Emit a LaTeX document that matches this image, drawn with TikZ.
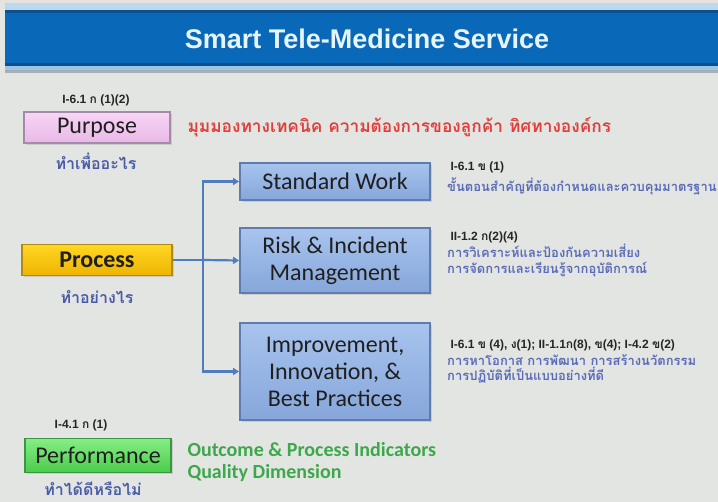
\documentclass[tikz,border=0pt]{standalone}
\usepackage{fontspec}
\setmainfont{Carlito}
\newfontfamily\arialf{Liberation Sans}
\newfontfamily\thaif[Script=Thai]{Loma}
\usetikzlibrary{arrows.meta,shadows}
\definecolor{bg}{HTML}{E3E5E3}
\definecolor{stripA}{HTML}{E6E2DC}
\definecolor{stripB}{HTML}{BCD8EE}
\definecolor{barblue}{HTML}{0A68B8}
\definecolor{bardark}{HTML}{0A4F8E}
\definecolor{barlow}{HTML}{9EC4E4}
\definecolor{bargrey}{HTML}{A6AEB8}
\definecolor{titletxt}{HTML}{E6F4FC}
\definecolor{thaiblue}{HTML}{4A5CA8}
\definecolor{thaiblue2}{HTML}{5A6CB8}
\definecolor{redtxt}{HTML}{E0403C}
\definecolor{greentxt}{HTML}{3DA84A}
\definecolor{arrowblue}{HTML}{4F7DC0}
\definecolor{pinkT}{HTML}{F8D6F6}
\definecolor{pinkB}{HTML}{E8B8E6}
\definecolor{pinkD}{HTML}{A48CA8}
\definecolor{goldT}{HTML}{FFD624}
\definecolor{goldB}{HTML}{EEB400}
\definecolor{goldD}{HTML}{B08A14}
\definecolor{greenT}{HTML}{86EE86}
\definecolor{greenB}{HTML}{4ACC4A}
\definecolor{greenD}{HTML}{3A9640}
\definecolor{blueT}{HTML}{A8C4EE}
\definecolor{blueB}{HTML}{86A6DA}
\definecolor{blueD}{HTML}{5E7CAE}
\newcommand\tk[1]{{\thaif\bfseries #1}}
\tikzset{
  basebox/.style={minimum height=31pt, inner sep=0pt, line width=1.8pt,
    drop shadow={opacity=0.25, shadow xshift=2pt, shadow yshift=-2pt},
    font=\fontsize{24}{27}\selectfont, text=black!88},
  pinkbox/.style={basebox, top color=pinkT, bottom color=pinkB, draw=pinkD},
  goldbox/.style={basebox, top color=goldT, bottom color=goldB, draw=goldD},
  greenbox/.style={basebox, top color=greenT, bottom color=greenB, draw=greenD},
  bluebox/.style={basebox, align=center, top color=blueT, bottom color=blueB, draw=blueD},
  reflbl/.style={font=\arialf\bfseries\fontsize{12}{14}\selectfont, text=black!85},
  subthai/.style={font=\thaif\bfseries\fontsize{16}{18}\selectfont, text=thaiblue},
  sidethai/.style={font=\thaif\bfseries\fontsize{13}{15.5}\selectfont, text=thaiblue2, align=left, anchor=north west, inner sep=0pt},
  link/.style={draw=arrowblue, line width=2.2pt},
  linkarrow/.style={link, -{Triangle[length=6pt,width=7pt]}}
}
\begin{document}
\begin{tikzpicture}[x=1pt,y=-1pt]
\useasboundingbox (0,0) rectangle (718,502);
\fill[bg] (0,0) rectangle (718,502);
\fill[stripA] (0,0) rectangle (718,3);
\fill[stripB] (5,3) rectangle (718,10);
\fill[bardark] (5,10) rectangle (718,13);
\fill[barblue] (5,13) rectangle (718,63);
\fill[bardark] (5,63) rectangle (718,66);
\fill[barlow] (5,66) rectangle (718,70);
\fill[bargrey] (5,70) rectangle (718,73);
\node[font=\arialf\bfseries\fontsize{27}{30}\selectfont, text=titletxt] (title) at (367,39) {Smart Tele-Medicine Service};

% left column
\node[reflbl] (lblpur) at (96,100) {I-6.1 \tk{ก} (1)(2)};
\node[pinkbox, minimum width=146pt] (purpose) at (97,127.5) {Purpose};
\node[subthai] (thpur) at (96,161) {ทำเพื่ออะไร};
\node[anchor=west, font=\thaif\bfseries\fontsize{17.3}{20}\selectfont, text=redtxt] (redline) at (184,127) {มุมมองทางเทคนิค ความต้องการของลูกค้า ทิศทางองค์กร};

\node[goldbox, minimum width=150pt, font=\bfseries\fontsize{24}{27}\selectfont] (process) at (97,260) {Process};
\node[subthai] (thproc) at (97,297) {ทำอย่างไร};

\node[reflbl] (lblperf) at (81,425) {I-4.1 \tk{ก} (1)};
\node[greenbox, minimum width=146pt, minimum height=34pt] (perf) at (98,455.5) {Performance};
\node[subthai] (thperf) at (93,489) {ทำได้ดีหรือไม่};
\node[anchor=west, font=\bfseries\fontsize{20}{22}\selectfont, text=greentxt, align=left] (green1) at (184,450) {Outcome \& Process Indicators};
\node[anchor=west, font=\bfseries\fontsize{20}{22}\selectfont, text=greentxt, align=left] (green2) at (184,473) {Quality Dimension};

% process boxes
\node[bluebox, minimum width=190pt, minimum height=37pt] (std) at (335,181.5) {Standard Work};
\node[bluebox, minimum width=190pt, minimum height=65pt] (risk) at (335,260.5) {Risk \& Incident\\Management};
\node[bluebox, minimum width=190pt, minimum height=97pt] (imp) at (335,371.5) {Improvement,\\Innovation, \&\\Best Practices};

% connectors
\coordinate (jtop) at (203,181.5);
\coordinate (jmid) at (203,260);
\coordinate (jbot) at (203,371.5);
\draw[link] (process.east) -- (jmid);
\draw[link] ([yshift=1.1pt]jtop) -- ([yshift=-1.1pt]jbot);
\draw[linkarrow] (jtop) -- (std.west);
\draw[linkarrow] (jmid) -- (risk.west);
\draw[linkarrow] (jbot) -- (imp.west);

% side notes
\node[reflbl, anchor=west] (lblstd) at (447,167) {I-6.1 \tk{ข} (1)};
\node[sidethai] (thstd) at (447,178) {ขั้นตอนสำคัญที่ต้องกำหนดและควบคุมมาตรฐาน};
\node[reflbl, anchor=west] (lblrisk) at (447,237) {II-1.2 \tk{ก}(2)(4)};
\node[sidethai] (thrisk) at (447,244) {การวิเคราะห์และป้องกันความเสี่ยง\\การจัดการและเรียนรู้จากอุบัติการณ์};
\node[reflbl, anchor=west] (lblimp) at (447,345) {I-6.1 \tk{ข} (4), \tk{ง}(1); II-1.1\tk{ก}(8), \tk{ข}(4); I-4.2 \tk{ข}(2)};
\node[sidethai] (thimp) at (447,354) {การหาโอกาส การพัฒนา การสร้างนวัตกรรม\\การปฏิบัติที่เป็นแบบอย่างที่ดี};
\end{tikzpicture}
\end{document}
